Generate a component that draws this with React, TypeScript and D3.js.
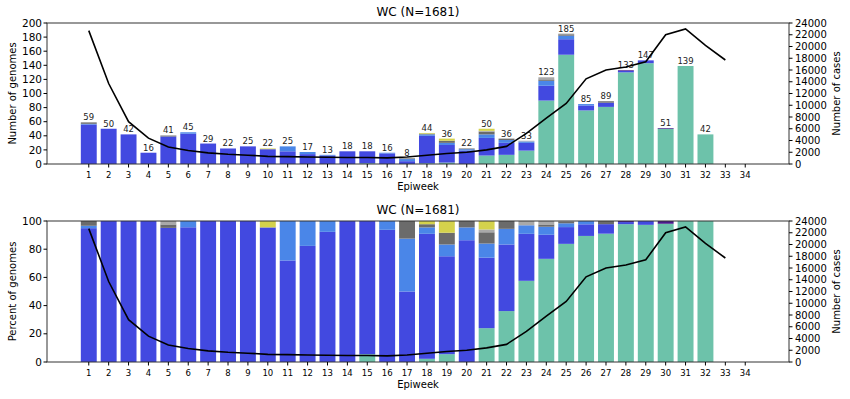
import * as d3 from "d3";

// genomes per epiweek, by lineage group (weeks 1..32)
const epiweeks = d3.range(1, 33);
const tickWeeks = d3.range(1, 35);
const teal = [0, 0, 0, 0, 0, 0, 0, 0, 0, 0, 0, 0, 0, 0, 1, 0, 0, 1, 2, 0, 12, 13, 19, 90, 155, 76, 81, 130, 143, 50, 139, 42];
const blue = [56, 50, 42, 16, 39, 43, 29, 22, 25, 21, 18, 14, 12, 18, 17, 15, 4, 39, 25, 19, 25, 17, 11, 21, 22, 7, 6, 2, 4, 0, 0, 0];
const lightBlue = [1, 0, 0, 0, 0, 2, 0, 0, 0, 0, 7, 3, 1, 0, 0, 1, 3, 2, 3, 2, 5, 4, 2, 7, 5, 2, 0, 0, 0, 0, 0, 0];
const darkGray = [2, 0, 0, 0, 1, 0, 0, 0, 0, 0, 0, 0, 0, 0, 0, 0, 1, 1, 3, 1, 4, 2, 0, 2, 2, 0, 2, 0, 0, 0, 0, 0];
const lightGray = [0, 0, 0, 0, 1, 0, 0, 0, 0, 0, 0, 0, 0, 0, 0, 0, 0, 0, 0, 0, 1, 0, 1, 3, 1, 0, 0, 0, 0, 0, 0, 0];
const yellow = [0, 0, 0, 0, 0, 0, 0, 0, 0, 1, 0, 0, 0, 0, 0, 0, 0, 1, 3, 0, 3, 0, 0, 0, 0, 0, 0, 0, 0, 0, 0, 0];
const purple = [0, 0, 0, 0, 0, 0, 0, 0, 0, 0, 0, 0, 0, 0, 0, 0, 0, 0, 0, 0, 0, 0, 0, 0, 0, 0, 0, 1, 0, 1, 0, 0];

// weekly reported cases (weeks 1..33)
const caseWeeks = d3.range(1, 34);
const cases = [22700, 13700, 7200, 4400, 2900, 2300, 1900, 1650, 1500, 1300, 1250, 1200, 1150, 1100, 1100, 1050, 1200, 1500, 1800, 2000, 2400, 3000, 5200, 7800, 10300, 14500, 16000, 16500, 17400, 22000, 23000, 20200, 17700];

const groups = [
  { key: "teal", values: teal, color: "#6dc2aa" },
  { key: "blue", values: blue, color: "#4249e0" },
  { key: "lightBlue", values: lightBlue, color: "#4a86e8" },
  { key: "darkGray", values: darkGray, color: "#6b6b6b" },
  { key: "lightGray", values: lightGray, color: "#a9a9a9" },
  { key: "yellow", values: yellow, color: "#d4d24c" },
  { key: "purple", values: purple, color: "#4a1a8c" },
];

const W = 850;
const H = 399;
const left = 47;
const right = 789;
const font = "DejaVu Sans, sans-serif";

const rows = epiweeks.map((w, i) => {
  const r: Record<string, number> = { week: w };
  groups.forEach((g) => (r[g.key] = g.values[i]));
  return r;
});
const totals = epiweeks.map((_, i) => d3.sum(groups, (g) => g.values[i]));
const pctRows = rows.map((r, i) => {
  const o: Record<string, number> = { week: r.week };
  groups.forEach((g) => (o[g.key] = (r[g.key] / totals[i]) * 100));
  return o;
});

const x = d3.scaleLinear().domain([-1.1, 36.2]).range([left, right]);
const barW = (x(1) - x(0)) * 0.8;

function Panel({ top, bottom, pct }: { top: number; bottom: number; pct: boolean }) {
  const y = d3.scaleLinear().domain(pct ? [0, 100] : [0, 200]).range([bottom, top]);
  const y2 = d3.scaleLinear().domain([0, 24000]).range([bottom, top]);
  const stack = d3.stack<Record<string, number>>().keys(groups.map((g) => g.key));
  const series = stack(pct ? pctRows : rows);
  const line = d3
    .line<number>()
    .x((_, i) => x(caseWeeks[i]))
    .y((d) => y2(d));
  const leftTicks = pct ? d3.range(0, 101, 20) : d3.range(0, 201, 20);
  const rightTicks = d3.range(0, 24001, 2000);
  const mid = (left + right) / 2;
  return (
    <g>
      {series.map((s, si) => (
        <g key={s.key} fill={groups[si].color}>
          {s.map((d, i) =>
            d[1] - d[0] > 0 ? (
              <rect
                key={i}
                x={x(epiweeks[i]) - barW / 2}
                width={barW}
                y={y(d[1])}
                height={y(d[0]) - y(d[1])}
              />
            ) : null
          )}
        </g>
      ))}
      {!pct &&
        totals.map((t, i) => (
          <text
            key={i}
            x={x(epiweeks[i])}
            y={y(t) - 2}
            textAnchor="middle"
            fontSize={8.5}
            fill="#222"
          >
            {t}
          </text>
        ))}
      <path d={line(cases) ?? ""} fill="none" stroke="#000" strokeWidth={1.6} />
      <rect x={left} y={top} width={right - left} height={bottom - top} fill="none" stroke="#333" strokeWidth={1} />
      {leftTicks.map((t) => (
        <g key={t}>
          <line x1={left - 3.5} x2={left} y1={y(t)} y2={y(t)} stroke="#000" />
          <text x={left - 5} y={y(t)} dy="0.35em" textAnchor="end" fontSize={10.5}>
            {t}
          </text>
        </g>
      ))}
      {rightTicks.map((t) => (
        <g key={t}>
          <line x1={right} x2={right + 3.5} y1={y2(t)} y2={y2(t)} stroke="#000" />
          <text x={right + 6} y={y2(t)} dy="0.35em" fontSize={10}>
            {t}
          </text>
        </g>
      ))}
      {tickWeeks.map((w) => (
        <g key={w}>
          <line x1={x(w)} x2={x(w)} y1={bottom} y2={bottom + 3.5} stroke="#000" />
          <text x={x(w)} y={bottom + 14} textAnchor="middle" fontSize={8.5}>
            {w}
          </text>
        </g>
      ))}
      <text x={mid} y={bottom + 26} textAnchor="middle" fontSize={10}>
        Epiweek
      </text>
      <text x={mid} y={top - 7} textAnchor="middle" fontSize={12}>
        WC (N={d3.sum(totals)})
      </text>
      <text
        transform={`translate(16,${(top + bottom) / 2}) rotate(-90)`}
        textAnchor="middle"
        fontSize={10}
      >
        {pct ? "Percent of genomes" : "Number of genomes"}
      </text>
      <text
        transform={`translate(840,${(top + bottom) / 2}) rotate(-90)`}
        textAnchor="middle"
        fontSize={10}
      >
        Number of cases
      </text>
    </g>
  );
}

export default function App() {
  return (
    <svg
      width={W}
      height={H}
      style={{ position: "absolute", left: 0, top: 0, background: "#fff" }}
      fontFamily={font}
    >
      <rect width={W} height={H} fill="#fff" />
      <Panel top={23} bottom={164} pct={false} />
      <Panel top={221} bottom={362} pct={true} />
    </svg>
  );
}
